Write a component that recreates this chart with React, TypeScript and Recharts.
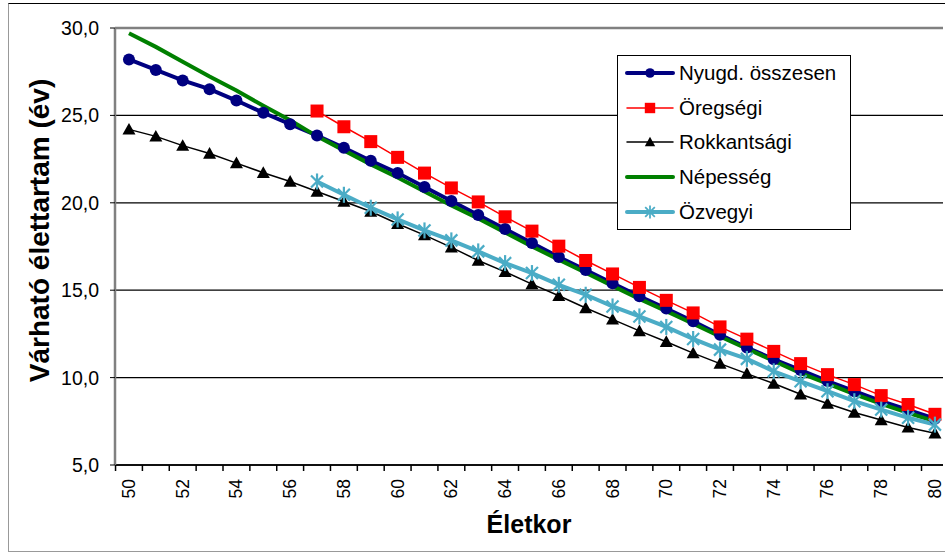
import { LineChart, Line, XAxis, YAxis, CartesianGrid, ReferenceLine, Label } from 'recharts';

const ages = [50, 51, 52, 53, 54, 55, 56, 57, 58, 59, 60, 61, 62, 63, 64, 65, 66, 67, 68, 69, 70, 71, 72, 73, 74, 75, 76, 77, 78, 79, 80];

const nyugd = [28.2, 27.6, 27.0, 26.5, 25.85, 25.15, 24.5, 23.85, 23.15, 22.4, 21.7, 20.9, 20.1, 19.3, 18.5, 17.7, 16.9, 16.15, 15.4, 14.65, 13.95, 13.22, 12.45, 11.72, 11.05, 10.43, 9.8, 9.22, 8.65, 8.15, 7.65];
const oregsegi = [null, null, null, null, null, null, null, 25.25, 24.35, 23.5, 22.6, 21.7, 20.85, 20.05, 19.2, 18.38, 17.52, 16.7, 15.93, 15.16, 14.42, 13.7, 12.9, 12.2, 11.5, 10.8, 10.17, 9.6, 8.97, 8.46, 7.9];
const rokkant = [24.2, 23.8, 23.27, 22.82, 22.27, 21.72, 21.22, 20.65, 20.07, 19.5, 18.8, 18.15, 17.45, 16.7, 16.05, 15.35, 14.68, 13.98, 13.33, 12.67, 12.05, 11.4, 10.8, 10.23, 9.66, 9.05, 8.52, 8.0, 7.57, 7.15, 6.82];
const nepesseg = [29.7, 28.92, 28.07, 27.22, 26.42, 25.55, 24.72, 23.8, 23.0, 22.2, 21.45, 20.65, 19.85, 19.1, 18.3, 17.5, 16.75, 16.0, 15.25, 14.5, 13.8, 13.08, 12.35, 11.65, 10.95, 10.25, 9.65, 9.05, 8.5, 7.98, 7.5];
const ozvegyi = [null, null, null, null, null, null, null, 21.22, 20.46, 19.72, 19.05, 18.42, 17.85, 17.22, 16.55, 15.98, 15.31, 14.74, 14.07, 13.5, 12.9, 12.21, 11.6, 11.07, 10.36, 9.79, 9.22, 8.65, 8.17, 7.7, 7.31];

const yTicks = [5, 10, 15, 20, 25, 30];
const xLabelTicks = [50, 52, 54, 56, 58, 60, 62, 64, 66, 68, 70, 72, 74, 76, 78, 80];
const xTickMarks = [49.5, 50.5, 51.5, 52.5, 53.5, 54.5, 55.5, 56.5, 57.5, 58.5, 59.5, 60.5, 61.5, 62.5, 63.5, 64.5, 65.5, 66.5, 67.5, 68.5, 69.5, 70.5, 71.5, 72.5, 73.5, 74.5, 75.5, 76.5, 77.5, 78.5, 79.5];

const FONT = '"Liberation Sans", Arial, sans-serif';

const series = [
  { key: 'nyugd', name: 'Nyugd. összesen', color: '#000080', width: 4, marker: 'circle' },
  { key: 'oregsegi', name: 'Öregségi', color: '#ff0000', width: 1.5, marker: 'square' },
  { key: 'rokkant', name: 'Rokkantsági', color: '#000000', width: 1.5, marker: 'triangle' },
  { key: 'nepesseg', name: 'Népesség', color: '#008000', width: 4, marker: 'none' },
  { key: 'ozvegyi', name: 'Özvegyi', color: '#4bacc6', width: 4, marker: 'star' },
];

const chartData = ages.map((age, i) => ({
  age,
  nyugd: nyugd[i],
  oregsegi: oregsegi[i],
  rokkant: rokkant[i],
  nepesseg: nepesseg[i],
  ozvegyi: ozvegyi[i],
}));

function Marker({ type, cx, cy, color, size = 1 }: any) {
  if (type === 'circle') return <circle cx={cx} cy={cy} r={6 * size} fill={color} />;
  if (type === 'square') {
    const s = 6.5 * size;
    return <rect x={cx - s} y={cy - s} width={s * 2} height={s * 2} fill={color} />;
  }
  if (type === 'triangle') {
    const s = 6.5 * size;
    return <polygon points={`${cx},${cy - s} ${cx + s},${cy + s * 0.8} ${cx - s},${cy + s * 0.8}`} fill={color} />;
  }
  if (type === 'star') {
    const s = 8 * size;
    const d = s * 0.75;
    return (
      <g stroke={color} strokeWidth={2.2 * size}>
        <line x1={cx} y1={cy - s} x2={cx} y2={cy + s} />
        <line x1={cx - d} y1={cy - d} x2={cx + d} y2={cy + d} />
        <line x1={cx - d} y1={cy + d} x2={cx + d} y2={cy - d} />
      </g>
    );
  }
  return null;
}

const makeDot = (type: string, color: string) => (props: any) => {
  const { cx, cy, index, value } = props;
  if (cx == null || cy == null || value == null) return <g key={`e-${index}`} />;
  return (
    <g key={`m-${index}`}>
      <Marker type={type} cx={cx} cy={cy} color={color} />
    </g>
  );
};

function AgeTick({ x, y, payload }: any) {
  const v = payload.value;
  if (!Number.isInteger(v)) {
    return <line x1={x} x2={x} y1={y} y2={y + 6} stroke="#000" strokeWidth={1.5} />;
  }
  if (!xLabelTicks.includes(v)) return null;
  const ty = y + 14;
  return (
    <text
      x={x}
      y={ty}
      transform={`rotate(-90 ${x} ${ty})`}
      textAnchor="end"
      dominantBaseline="central"
      fontSize={17.5}
      fontFamily={FONT}
      fill="#000"
    >
      {v}
    </text>
  );
}

function LegendBox() {
  return (
    <div
      style={{
        position: 'absolute',
        left: 617,
        top: 55,
        width: 234,
        height: 175,
        border: '1.5px solid #000',
        boxSizing: 'border-box',
        background: '#fff',
        fontFamily: FONT,
        fontSize: 20.5,
      }}
    >
      {series.map(s => (
        <div key={s.key} style={{ display: 'flex', alignItems: 'center', height: 34.6, paddingLeft: 7 }}>
          <svg width={50} height={20} style={{ flex: 'none' }}>
            <line x1={2} y1={10} x2={48} y2={10} stroke={s.color} strokeWidth={s.width} strokeLinecap="round" />
            <Marker type={s.marker} cx={25} cy={10} color={s.color} size={0.8} />
          </svg>
          <span style={{ marginLeft: 4, whiteSpace: 'nowrap' }}>{s.name}</span>
        </div>
      ))}
    </div>
  );
}

export default function App() {
  return (
    <div style={{ position: 'absolute', left: 0, top: 0, width: 945, height: 554, background: '#fff' }}>
      <div
        style={{
          position: 'absolute',
          left: 8,
          top: 3,
          width: 945,
          height: 549,
          borderTop: '1.5px solid #000',
          borderLeft: '1.5px solid #999',
          borderBottom: '1.5px solid #999',
          boxSizing: 'border-box',
        }}
      />
      <div style={{ position: 'absolute', left: 0, top: 0 }}>
        <LineChart
          width={945}
          height={554}
          data={chartData}
          margin={{ top: 28, right: 2, bottom: 0, left: 0 }}
          style={{ fontFamily: FONT }}
        >
          <CartesianGrid vertical={false} stroke="#000" strokeWidth={1.3} />
          <XAxis
            dataKey="age"
            type="number"
            domain={[49.48, 80.3]}
            allowDataOverflow
            ticks={[...xTickMarks, ...xLabelTicks].sort((a, b) => a - b)}
            interval={0}
            tick={<AgeTick />}
            tickLine={false}
            tickSize={0}
            tickMargin={0}
            height={89}
            axisLine={{ stroke: '#000', strokeWidth: 1.5 }}
          >
            <Label
              value="Életkor"
              position="insideBottom"
              offset={21}
              style={{ fontSize: 25, fontWeight: 'bold', fill: '#000', fontFamily: FONT }}
            />
          </XAxis>
          <YAxis
            type="number"
            domain={[5, 30]}
            ticks={yTicks}
            interval={0}
            width={115}
            tickSize={5}
            tickMargin={11}
            tickFormatter={(v: number) => v.toFixed(1).replace('.', ',')}
            tick={{ fill: '#000', fontSize: 19.5, fontFamily: FONT }}
            tickLine={{ stroke: '#000' }}
            axisLine={{ stroke: '#808080', strokeWidth: 2.5 }}
          >
            <Label
              value="Várható élettartam (év)"
              angle={-90}
              position="insideLeft"
              offset={0}
              content={({ viewBox }: any) => {
                const cx = 39;
                const cy = viewBox.y + viewBox.height / 2 - 16;
                return (
                  <text
                    x={cx}
                    y={cy}
                    transform={`rotate(-90 ${cx} ${cy})`}
                    textAnchor="middle"
                    dominantBaseline="central"
                    fontSize={28}
                    fontWeight="bold"
                    fontFamily={FONT}
                    fill="#000"
                  >
                    Várható élettartam (év)
                  </text>
                );
              }}
            />
          </YAxis>
          <ReferenceLine y={30} stroke="#808080" strokeWidth={2.5} />
          {series.map(s => (
            <Line
              key={s.key}
              dataKey={s.key}
              name={s.name}
              type="linear"
              stroke={s.color}
              strokeWidth={s.width}
              dot={s.marker === 'none' ? false : makeDot(s.marker, s.color)}
              activeDot={false}
              connectNulls={false}
              isAnimationActive={false}
            />
          ))}
        </LineChart>
      </div>
      <LegendBox />
    </div>
  );
}
